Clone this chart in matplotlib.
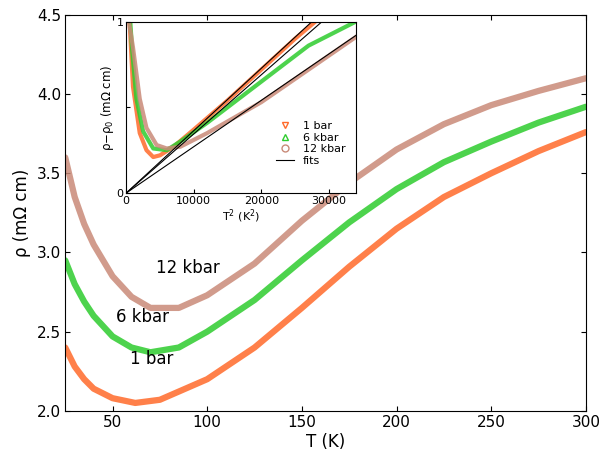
import numpy as np
import matplotlib.pyplot as plt

# main panel data
T_1bar = [25, 30, 35, 40, 50, 62, 75, 100, 125, 150, 175, 200, 225, 250, 275, 300]
r_1bar = [2.40, 2.28, 2.20, 2.14, 2.08, 2.05, 2.07, 2.20, 2.40, 2.65, 2.91, 3.15, 3.35, 3.50, 3.64, 3.76]
T_6k = [25, 30, 35, 40, 50, 60, 70, 85, 100, 125, 150, 175, 200, 225, 250, 275, 300]
r_6k = [2.95, 2.80, 2.69, 2.60, 2.47, 2.40, 2.37, 2.40, 2.50, 2.70, 2.95, 3.19, 3.40, 3.57, 3.70, 3.82, 3.92]
T_12k = [25, 30, 35, 40, 50, 60, 70, 85, 100, 125, 150, 175, 200, 225, 250, 275, 300]
r_12k = [3.60, 3.35, 3.18, 3.05, 2.85, 2.72, 2.65, 2.65, 2.73, 2.93, 3.20, 3.44, 3.65, 3.81, 3.93, 4.02, 4.10]

# inset data (T^2, rho - rho0)
x_1bar = [500, 1000, 2000, 3000, 4000, 5000, 7000, 10000, 15000, 20000, 25000, 28000]
y_1bar = [1.0, 0.62, 0.35, 0.25, 0.21, 0.22, 0.27, 0.37, 0.54, 0.72, 0.90, 1.0]
x_6k = [600, 900, 1500, 2500, 4000, 6000, 8000, 12000, 20000, 27000, 34000]
y_6k = [1.0, 0.82, 0.55, 0.36, 0.26, 0.25, 0.30, 0.41, 0.65, 0.86, 1.0]
x_12k = [400, 1000, 2000, 3000, 4500, 6000, 8000, 12000, 20000, 27000, 34000]
y_12k = [1.0, 0.85, 0.55, 0.38, 0.28, 0.26, 0.27, 0.35, 0.53, 0.72, 0.91]
fit_slopes = [1/27500, 1/29000, 1/37000]

c1, c6, c12 = "#ff6a2a", "#2ecc2e", "#c98a78"

fig = plt.figure(figsize=(6.04, 4.51), dpi=100)
ax = fig.add_axes([0.108, 0.089, 0.862, 0.878])
for T, r, c in [(T_1bar, r_1bar, c1), (T_6k, r_6k, c6), (T_12k, r_12k, c12)]:
    ax.plot(T, r, color=c, lw=4.5, alpha=0.85, solid_capstyle="round", solid_joinstyle="round")
ax.set_xlim(25, 300)
ax.set_ylim(2.0, 4.5)
ax.set_xticks([50, 100, 150, 200, 250, 300])
ax.set_yticks(np.arange(2.0, 4.51, 0.5))
ax.yaxis.set_major_formatter(plt.FormatStrFormatter("%.1f"))
ax.tick_params(labelsize=11, direction="in", top=True, right=True, pad=3)
ax.set_xlabel("T (K)", fontsize=12, labelpad=2)
ax.set_ylabel("ρ (mΩ cm)", fontsize=12, labelpad=4)
ax.text(73, 2.90, "12 kbar", fontsize=12, ha="left", va="center")
ax.text(52, 2.59, "6 kbar", fontsize=12, ha="left", va="center")
ax.text(59, 2.33, "1 bar", fontsize=12, ha="left", va="center")

ins = fig.add_axes([0.209, 0.572, 0.38, 0.38])
for x, y, c in [(x_1bar, y_1bar, c1), (x_6k, y_6k, c6), (x_12k, y_12k, c12)]:
    ins.plot(x, y, color=c, lw=3, alpha=0.85, solid_joinstyle="round")
lab = ["1 bar", "6 kbar", "12 kbar"]
for c, m, l in zip([c1, c6, c12], ["v", "^", "o"], lab):
    ins.plot([], [], m, mfc="none", mec=c, label=l, ms=5)
xx = np.array([0, 34000])
for i, s in enumerate(fit_slopes):
    ins.plot(xx, s * xx, color="black", lw=0.8, label="fits" if i == 0 else None)
ins.set_xlim(0, 34000)
ins.set_ylim(0, 1)
ins.set_xticks([0, 10000, 20000, 30000])
ins.set_yticks([0, 0.5, 1])
ins.set_yticklabels(["0", "", "1"])
ins.tick_params(labelsize=8, direction="in", length=3, pad=2)
ins.set_xlabel("T$^2$ (K$^2$)", fontsize=8, labelpad=1)
ins.set_ylabel("ρ−ρ$_0$ (mΩ cm)", fontsize=8.5, labelpad=0)
ins.legend(fontsize=8, frameon=False, loc="lower right", bbox_to_anchor=(1.0, 0.1),
           handlelength=1.6, labelspacing=0.15)
fig.savefig("out.png", dpi=100)
